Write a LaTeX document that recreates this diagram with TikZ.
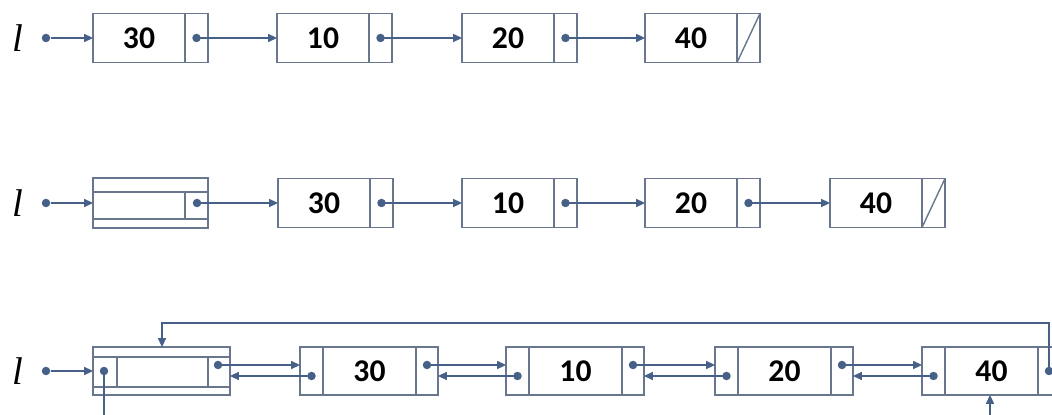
\documentclass[tikz,border=0pt]{standalone}
\usepackage{fontspec}
\setmainfont{Carlito}
\newfontfamily\listfont{Liberation Serif}
\usetikzlibrary{arrows.meta}
\definecolor{boxcol}{RGB}{104,118,142}
\definecolor{linkcol}{RGB}{70,96,136}
\tikzset{
  cell/.style={draw=boxcol, line width=0.8pt, outer sep=0pt, inner sep=0pt,
    minimum height=49*0.02cm, font=\fontsize{18}{20}\selectfont\bfseries},
  dot/.style={circle, fill=linkcol, inner sep=0pt, minimum size=8.5*0.02cm},
  link/.style={draw=linkcol, line width=1pt, -{Triangle[length=5pt,width=4.5pt]}},
  listname/.style={font=\fontsize{22}{24}\selectfont\listfont\itshape}
}
\begin{document}
\begin{tikzpicture}[x=0.02cm,y=-0.02cm]
\useasboundingbox (0,0) rectangle (1052,415);
\clip (0,0) rectangle (1052,415);
% plain list
\node[listname] (l1) at (18,38) {l};
\node[dot] (s1) at (46,38) {};
\foreach \n/\x/\v in {1/93/30, 2/277/10, 3/462/20, 4/645/40} {
  \node[cell, minimum width=92*0.02cm, anchor=west] (a\n) at (\x,38) {\v};
  \node[cell, minimum width=23*0.02cm, anchor=west] (ap\n) at (a\n.east) {};
}
\foreach \n in {1,2,3} \node[dot] (q\n) at (ap\n) {};
\draw[boxcol, line width=0.8pt] (ap4.south west) -- (ap4.north east);
\draw[link] (s1) -- (a1.west);
\foreach \n/\m in {1/2, 2/3, 3/4} \draw[link] (q\n.center) -- (a\m.west);
% list with head node
\node[listname] (l2) at (18,203) {l};
\node[dot] (s2) at (46,203) {};
\node[cell, minimum width=115*0.02cm, minimum height=50*0.02cm, anchor=west] (h2) at (93,203) {};
\draw[boxcol, line width=0.8pt] (93,192) -- (208,192) (93,219) -- (208,219) (185,192) -- (185,219);
\node[dot] (hq2) at (197,203) {};
\foreach \n/\x/\v in {1/278/30, 2/462/10, 3/645/20, 4/830/40} {
  \node[cell, minimum width=92*0.02cm, anchor=west] (k\n) at (\x,203) {\v};
  \node[cell, minimum width=23*0.02cm, anchor=west] (kp\n) at (k\n.east) {};
}
\foreach \n in {1,2,3} \node[dot] (kq\n) at (kp\n) {};
\draw[boxcol, line width=0.8pt] (kp4.south west) -- (kp4.north east);
\draw[link] (s2) -- (h2.west);
\draw[link] (hq2.center) -- (k1.west);
\foreach \n/\m in {1/2, 2/3, 3/4} \draw[link] (kq\n.center) -- (k\m.west);
% circular doubly linked list with head node
\node[listname] (l3) at (18,371) {l};
\node[dot] (s3) at (46,371) {};
\node[cell, minimum width=137*0.02cm, minimum height=48*0.02cm, anchor=north west] (h3) at (93,347) {};
\draw[boxcol, line width=0.8pt] (93,357) -- (230,357) (93,387) -- (230,387)
  (117,357) -- (117,387) (208,357) -- (208,387);
\node[dot] (hl3) at (104,371) {};
\node[dot] (hr3) at (218,365) {};
\foreach \n/\x/\v/\fy in {1/300/30/365, 2/506/10/365, 3/715/20/365, 4/922/40/371} {
  \node[cell, minimum width=23*0.02cm, minimum height=48*0.02cm, anchor=north west] (b\n) at (\x,347) {};
  \node[cell, minimum width=93*0.02cm, minimum height=48*0.02cm, anchor=west] (c\n) at (b\n.east) {\v};
  \node[cell, minimum width=22*0.02cm, minimum height=48*0.02cm, anchor=west] (e\n) at (c\n.east) {};
  \node[dot] (g\n) at (b\n.center |- 0,376) {};
  \node[dot] (f\n) at (e\n.center |- 0,\fy) {};
}
\draw[link] (s3) -- (s3 -| h3.west);
\draw[link] (hr3.center) -- (hr3.center -| b1.west);
\draw[link] (g1.center) -- (g1.center -| h3.east);
\foreach \n/\m in {1/2, 2/3, 3/4} {
  \draw[link] (f\n.center) -- (f\n.center -| b\m.west);
  \draw[link] (g\m.center) -- (g\m.center -| e\n.east);
}
\coordinate (top) at (162,323);
\coordinate (bot) at (990,421);
\draw[link] (f4.center) |- (top) -- (top |- h3.north);
\draw[link] (hl3.center) |- (bot) -- (bot |- c4.south);
\end{tikzpicture}
\end{document}
